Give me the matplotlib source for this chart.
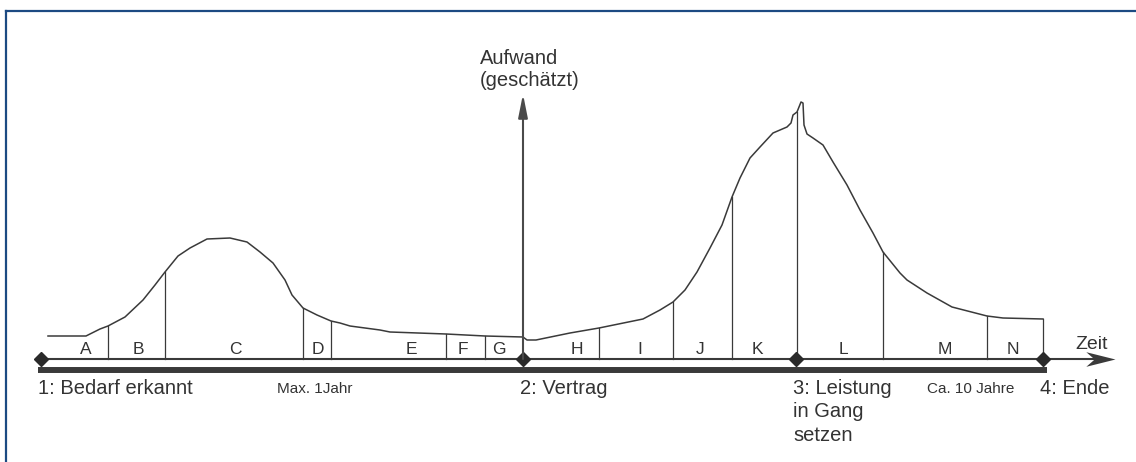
import numpy as np
import matplotlib
matplotlib.use('Agg')
import matplotlib.pyplot as plt
from matplotlib.lines import Line2D
from matplotlib.path import Path

plt.rcParams.update({'font.family': ['Liberation Sans', 'DejaVu Sans']})

# time positions (x) and estimated effort (height above the time axis)
curve_t = [48, 86, 100, 108, 125, 143, 155, 165, 178, 190, 207, 230, 247, 260,
           273, 285, 292, 303, 317, 331, 340, 350, 380, 390, 446, 485, 523, 527,
           536, 570, 599, 643, 660, 673, 685, 697, 710, 722, 732, 740, 750, 760,
           773, 787, 791, 793, 797, 799, 801, 803, 804, 807, 813, 823, 833, 847,
           860, 873, 883, 900, 907, 927, 952, 987, 1003, 1043]
curve_y = [23, 23, 30, 33, 42, 59, 74, 87, 103, 111, 120, 121, 117, 107,
           96, 79, 64, 51, 44, 38, 36, 33, 29, 27, 25, 23, 22, 19,
           19, 26, 31, 40, 49, 57, 69, 87, 111, 134, 162, 181, 201, 212,
           226, 232, 236, 244, 247, 252, 257, 256, 234, 225, 221, 214, 197, 174,
           149, 126, 107, 86, 79, 66, 52, 43, 41, 40]

phase_bounds = [108, 165, 303, 331, 446, 485, 599, 673, 732, 797, 883, 987, 1043]
phase_names = list('ABCDEFGHIJKLMN')
phase_label_t = [86, 138, 235, 318, 411, 463, 499, 577, 640, 700, 757, 843, 945, 1013]

milestone_t = [41, 523, 796, 1043]
milestone_names = ['1: Bedarf erkannt', '2: Vertrag', '3: Leistung\nin Gang\nsetzen', '4: Ende']

duration_t = [315, 971]
duration_names = ['Max. 1Jahr', 'Ca. 10 Jahre']

txt = '#333333'
ink = '#3a3a3a'

fig = plt.figure(figsize=(11.36, 4.62), dpi=100)
ax = fig.add_axes([0, 0, 1, 1])
ax.set_xlim(0, 1136)
ax.set_ylim(-103, 359)
ax.axis('off')

# frame (top and left only)
frame = '#1c4a82'
fig.add_artist(Line2D([6 / 1136, 1], [1 - 11 / 462] * 2, color=frame, lw=1.6))
fig.add_artist(Line2D([6 / 1136] * 2, [0, 1 - 11 / 462], color=frame, lw=1.6))

# effort curve
ax.plot(curve_t, curve_y, color=ink, lw=1.1, solid_joinstyle='round')

# phase boundaries up to the curve
for b in phase_bounds:
    ax.plot([b, b], [0, np.interp(b, curve_t, curve_y)], color=ink, lw=0.9)

for name, t in zip(phase_names, phase_label_t):
    ax.text(t, 2, name, ha='center', va='bottom', fontsize=12.5, color=txt)

# time axis with notched arrow head
ax.plot([milestone_t[0], 1100], [0, 0], color=ink, lw=1.5)
head = Path([(0, 0), (-2.8, 0.7), (-2.0, 0), (-2.8, -0.7), (0, 0)],
            [Path.MOVETO, Path.LINETO, Path.LINETO, Path.LINETO, Path.CLOSEPOLY])
ax.plot([1115], [0], marker=head, markersize=42, color=ink, markeredgewidth=0)
ax.plot([milestone_t[0] - 3, milestone_t[-1] + 4], [-11, -11], color=ink, lw=4.3,
        solid_capstyle='butt')
ax.text(1075, 10, 'Zeit', ha='left', va='baseline', fontsize=14, color=txt)

# effort axis
ax.annotate('', xy=(milestone_t[1], 265), xytext=(milestone_t[1], 0),
            arrowprops=dict(arrowstyle='-|>,head_length=1.4,head_width=0.28',
                            mutation_scale=10, color='#4a4a4a', lw=1.5,
                            shrinkA=0, shrinkB=0))
ax.text(480, 269, 'Aufwand\n(geschätzt)', ha='left', va='bottom', fontsize=14.5,
        color=txt, linespacing=1.17)

# milestones
ax.plot(milestone_t, [0] * len(milestone_t), 'D', color='#2a2a2a', markersize=7)
for t, name in zip(milestone_t, milestone_names):
    ax.text(t - 3, -20, name, ha='left', va='top', fontsize=14.5, color=txt,
            linespacing=1.29)

for t, name in zip(duration_t, duration_names):
    ax.text(t, -30, name, ha='center', va='center', fontsize=11, color=txt)

fig.savefig('out.png', dpi=100)
